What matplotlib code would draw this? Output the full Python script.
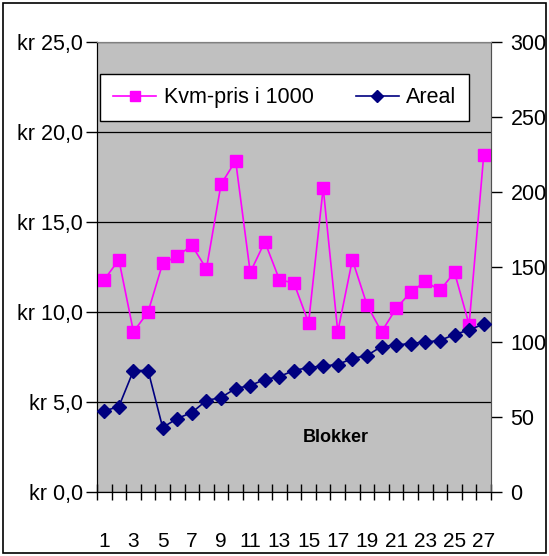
import matplotlib.pyplot as plt
from matplotlib.patches import Rectangle
import numpy as np

plt.rcParams['font.family'] = ['Liberation Sans', 'DejaVu Sans']

blokker = list(range(1, 28))
kvm_pris = [11.8, 12.9, 8.9, 10.0, 12.7, 13.1, 13.7, 12.4, 17.1, 18.4,
            12.2, 13.9, 11.8, 11.6, 9.4, 16.9, 8.9, 12.9, 10.4, 8.9,
            10.2, 11.1, 11.7, 11.2, 12.2, 9.3, 18.7]
areal = [54, 57, 81, 81, 43, 49, 53, 61, 63, 69, 71, 75, 77, 81, 83,
         84, 85, 89, 91, 97, 98, 99, 100, 101, 105, 108, 112]

left_ticks = [0, 5, 10, 15, 20, 25]
right_ticks = [0, 50, 100, 150, 200, 250, 300]

fig = plt.figure(figsize=(5.49, 5.56), dpi=100)
fig.patch.set_facecolor('white')
fig.patches.append(Rectangle((3/549, 3/556), 543/549, 550/556, transform=fig.transFigure,
                             fill=False, edgecolor='black', linewidth=1.2))

ax = fig.add_axes([97/549, 64/556, 394/549, 450/556])
ax.set_facecolor('#C0C0C0')
ax2 = ax.twinx()

l1, = ax.plot(blokker, kvm_pris, color='#FF00FF', marker='s', markersize=8.5,
              linewidth=1.2, label='Kvm-pris i 1000', zorder=3)
l2, = ax2.plot(blokker, areal, color='#000080', marker='D', markersize=7.5,
               linewidth=1.2, label='Areal', zorder=3)

ax.set_xlim(0.5, 27.5)
ax.set_ylim(0, 25)
ax2.set_ylim(0, 300)

ax.set_yticks(left_ticks)
ax.yaxis.set_major_formatter(plt.FuncFormatter(lambda v, p: ('kr %.1f' % v).replace('.', ',')))
ax2.set_yticks(right_ticks)
ax.grid(axis='y', color='black', linewidth=0.9)
ax.set_axisbelow(True)

ax.set_xticks(blokker[::2])
ax.set_xticklabels([str(b) for b in blokker[::2]])
ax.set_xticks(np.arange(0.5, 28, 1), minor=True)
ax.tick_params(axis='x', which='major', length=0, pad=29, labelsize=15)
ax.tick_params(axis='x', which='minor', direction='inout', length=12, width=1)
ax.tick_params(axis='y', direction='out', length=8, width=1, labelsize=15.5, pad=2)
ax2.tick_params(axis='y', direction='out', length=8, width=1, labelsize=15.5, pad=6)

for s in ['top', 'right']:
    ax.spines[s].set_color('#808080')
ax2.spines['right'].set_color('#505050')
ax2.spines['top'].set_color('#808080')
ax.spines['left'].set_color('black')
ax.spines['bottom'].set_color('black')

ax.text(0.605, 0.12, 'Blokker', transform=ax.transAxes, ha='center', va='center',
        fontsize=13, fontweight='bold')

leg = ax2.legend([l1, l2], ['Kvm-pris i 1000', 'Areal'], ncol=2, mode='expand',
                 bbox_to_anchor=(0.008, 0.824, 0.937, 0.129), loc='lower left',
                 frameon=True, fancybox=False, framealpha=1, edgecolor='black',
                 fontsize=15.5, borderaxespad=0, handlelength=2.0, handletextpad=0.35,
                 borderpad=0.6, columnspacing=0.5, markerscale=0.8)
leg.get_frame().set_linewidth(1)

fig.savefig('out.png', dpi=100)
